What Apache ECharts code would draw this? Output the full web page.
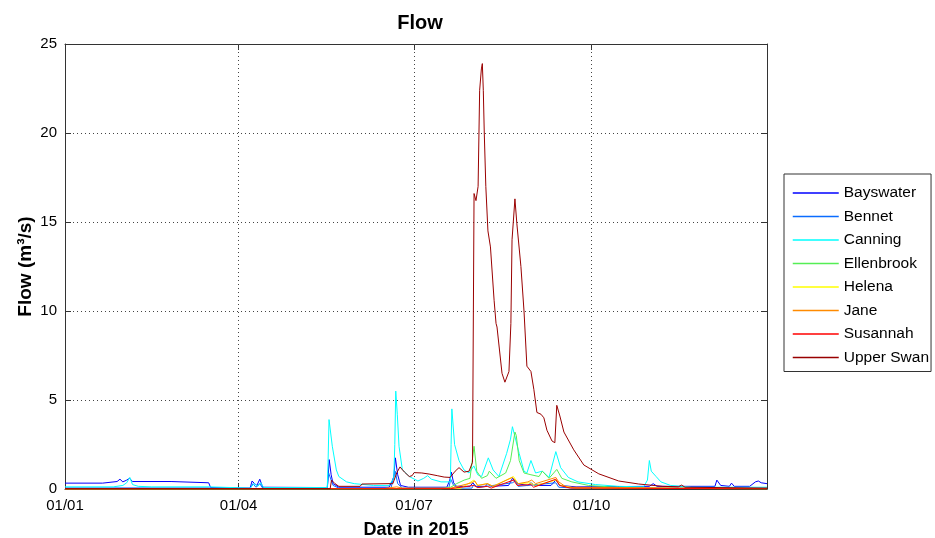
<!DOCTYPE html>
<html>
<head>
<meta charset="utf-8">
<title>Flow</title>
<script src="https://cdn.jsdelivr.net/npm/echarts@6/dist/echarts.min.js"></script>
<style>
  html, body { margin: 0; padding: 0; background: #fff; }
  #chart { width: 935px; height: 538px; }
</style>
</head>
<body>
<div id="chart"></div>
<script>
// Daily river inflows for 2015, as [day of year (0 = 1 Jan), flow in m3/s]
const seriesNames = ['Bayswater', 'Bennet', 'Canning', 'Ellenbrook', 'Helena', 'Jane', 'Susannah', 'Upper Swan'];

const tickDays = [0, 90, 181, 273];
const tickLabels = ['01/01', '01/04', '01/07', '01/10'];
const yMin = 0, yMax = 25, yStep = 5;

const bayswater = [
  [0, 0.33], [19.5, 0.33], [20, 0.42], [27, 0.42], [28.5, 0.55], [30, 0.4], [32, 0.5], [33.5, 0.6], [35, 0.42],
  [55, 0.42], [56, 0.35], [74.5, 0.35], [75.5, 0.08], [96, 0.05], [97, 0.45], [98.3, 0.3], [99.5, 0.2],
  [101, 0.55], [102.5, 0.1], [136, 0.08], [136.5, 0.8], [137, 1.65], [138, 0.8], [139, 0.3], [142, 0.1],
  [168, 0.1], [169.5, 0.4], [170.5, 0.7], [171.3, 1.75], [172.5, 0.8], [174, 0.2], [178, 0.1], [198, 0.1],
  [199.5, 0.5], [200.3, 0.95], [201.5, 0.35], [203, 0.15], [210, 0.15], [211.5, 0.35], [213, 0.15],
  [218, 0.15], [219, 0.3], [221, 0.15], [230, 0.2], [232, 0.6], [233, 0.68], [234.5, 0.3], [240, 0.2],
  [241.6, 0.35], [243.5, 0.2], [252, 0.2], [254.5, 0.5], [256.5, 0.2], [265, 0.12], [303, 0.15], [305, 0.3],
  [307, 0.15], [337, 0.15], [338, 0.5], [340, 0.2], [344.5, 0.15], [345.6, 0.33], [347, 0.15], [355, 0.15],
  [358, 0.4], [359.5, 0.45], [361, 0.35], [364, 0.3]
];

const bennet = [
  [0, 0.06], [75, 0.06], [76, 0.03], [96, 0.03], [97.5, 0.3], [99, 0.1], [101, 0.3], [102.5, 0.05],
  [136, 0.05], [136.7, 0.9], [137.5, 0.8], [139, 0.2], [142, 0.05], [169, 0.05], [170.3, 0.6], [171.2, 1.0],
  [172.5, 0.3], [175, 0.05], [199, 0.05], [200, 0.55], [201.5, 0.2], [204, 0.05], [211, 0.05], [212, 0.25],
  [214, 0.08], [232, 0.35], [233.5, 0.45], [235, 0.15], [254.5, 0.35], [256, 0.1], [265, 0.05], [364, 0.05]
];

const canning = [
  [0, 0.12], [25, 0.12], [30, 0.2], [32, 0.35], [33.6, 0.65], [35, 0.25], [38, 0.15], [45, 0.12], [75, 0.12],
  [76, 0.05], [96, 0.05], [98, 0.3], [100, 0.15], [101.5, 0.35], [103, 0.08], [136, 0.08], [136.4, 1.5],
  [136.9, 3.9], [138.6, 2.4], [140.7, 1.07], [142, 0.7], [146, 0.4], [150, 0.3], [160, 0.2], [168, 0.2],
  [170.5, 0.6], [171, 2.5], [171.5, 5.5], [172.3, 4.2], [173.2, 2.4], [174.9, 1.1], [178.5, 0.7],
  [183, 0.45], [186, 0.6], [188, 0.75], [190, 0.55], [195, 0.4], [199.8, 0.4], [200.2, 2.5], [200.6, 4.5],
  [202, 2.5], [204.3, 1.6], [206.9, 1.07], [209.5, 0.9], [212, 1.3], [214, 0.8], [216, 0.7], [219.5, 1.75],
  [222, 1.07], [225, 0.7], [229, 2.0], [231, 2.8], [232, 3.5], [233, 3.5], [235.5, 2.0], [238, 1.0],
  [239.5, 0.9], [241.6, 1.6], [244, 0.9], [247.5, 1.0], [251, 0.65], [254.5, 2.1], [257, 1.2], [261, 0.65],
  [266, 0.4], [275, 0.25], [287, 0.15], [300, 0.12], [302, 0.5], [303, 1.6], [304, 1.0], [305, 1.1],
  [306.5, 0.7], [309, 0.4], [314, 0.2], [325, 0.1], [364, 0.1]
];

const ellenbrook = [
  [0, 0.01], [195, 0.01], [200, 0.1], [203, 0.3], [207, 0.5], [210, 0.6], [212.1, 2.4], [213.5, 1.0],
  [216, 0.6], [219, 0.75], [220, 1.0], [223.5, 0.6], [228.5, 0.9], [231, 1.6], [233.3, 3.2], [234, 3.0],
  [235.5, 1.6], [238, 0.9], [241.6, 0.8], [245.8, 0.7], [247.5, 1.0], [251, 0.6], [255, 1.1], [257.6, 0.6],
  [262.8, 0.4], [271.5, 0.2], [285, 0.1], [300, 0.05], [364, 0.02]
];

const helena = [
  [0, 0.0], [205, 0.02], [212, 0.5], [214, 0.2], [219, 0.3], [222, 0.15], [232.5, 0.7], [235, 0.3],
  [241, 0.35], [244, 0.2], [254.5, 0.5], [257, 0.2], [265, 0.05], [364, 0.01]
];

const jane = [
  [0, 0.0], [165, 0.02], [172, 0.12], [175, 0.05], [200, 0.05], [211, 0.35], [212.5, 0.45], [214, 0.2],
  [219, 0.3], [222, 0.15], [232, 0.65], [233, 0.7], [235, 0.3], [240, 0.4], [242, 0.5], [244, 0.3],
  [254.5, 0.65], [256, 0.4], [260, 0.1], [364, 0.02]
];

const susannah = [
  [0, 0.0], [200, 0.02], [212, 0.2], [214, 0.08], [219, 0.15], [221, 0.05], [232.5, 0.5], [234.5, 0.2],
  [241.6, 0.25], [243, 0.1], [254.5, 0.55], [256.5, 0.2], [262, 0.05], [364, 0.01]
];

const upperSwan = [
  [0, 0.02], [137.5, 0.02], [138.2, 0.5], [140, 0.3], [142, 0.15], [153, 0.15], [154, 0.28], [168, 0.3],
  [170, 0.3], [172, 0.9], [173.7, 1.24], [176, 0.95], [178.5, 0.7], [180, 0.75], [181, 0.92], [185, 0.9],
  [188.8, 0.84], [193, 0.75], [196.6, 0.67], [199.7, 0.65], [202.3, 1.0], [204.3, 1.2], [206.9, 0.95],
  [209.5, 1.0], [211.3, 1.5], [212.1, 16.6], [213.1, 16.2], [214.2, 17], [215, 22.4], [215.9, 23.6],
  [216.4, 23.9], [216.9, 22.4], [217.4, 20], [218.2, 17], [219.3, 14.5], [220.6, 13.6], [222.5, 10.6],
  [223.5, 9.3], [224, 9.1], [226.6, 6.5], [228.1, 6.0], [230.2, 6.6], [231.2, 9.3], [231.8, 14],
  [233.3, 16.3], [234.3, 14.9], [236.4, 12.5], [238, 10], [239.5, 6.9], [241.6, 6.6], [243.1, 5.6],
  [244.7, 4.3], [246.8, 4.2], [248.3, 4.0], [249.9, 3.3], [252.5, 2.7], [254, 2.6], [255, 4.7],
  [256.6, 4.1], [258.7, 3.2], [263.8, 2.2], [269, 1.35], [276.8, 0.85], [287.1, 0.45], [297.5, 0.28],
  [310, 0.15], [318, 0.12], [319.7, 0.22], [321.5, 0.1], [364, 0.05]
];

const seriesData = [bayswater, bennet, canning, ellenbrook, helena, jane, susannah, upperSwan];

// Line colours, one per river
const lineColors = ['#0000ff', '#0a6cff', '#00ffff', '#55ee55', '#ffff00', '#ff8a00', '#ff0000', '#990000'];

const FONT = '"Liberation Sans", Arial, Helvetica, sans-serif';
const AXIS_COLOR = '#333';
const GRID_DOT = { color: '#444', width: 1, type: [1, 3] };

const chart = echarts.init(document.getElementById('chart'), null, { renderer: 'canvas' });

const tickLabel = v => {
  const i = tickDays.indexOf(v);
  return i >= 0 ? tickLabels[i] : '';
};

const series = seriesNames.map((name, i) => {
  const s = {
    name: name,
    type: 'line',
    data: seriesData[i],
    xAxisIndex: 0,
    yAxisIndex: 0,
    showSymbol: false,
    symbol: 'none',
    lineStyle: { width: 1, color: lineColors[i] },
    itemStyle: { color: lineColors[i] },
    emphasis: { disabled: true },
    z: 3
  };
  if (i === 0) {
    // vertical grid lines at the month ticks
    s.markLine = {
      silent: true,
      symbol: ['none', 'none'],
      label: { show: false },
      lineStyle: GRID_DOT,
      emphasis: { disabled: true },
      data: tickDays.filter(d => d > 0).map(d => ({ xAxis: d }))
    };
  }
  return s;
});

const option = {
  animation: false,
  backgroundColor: '#fff',
  title: {
    text: 'Flow',
    left: 415,
    top: 8,
    textAlign: 'center',
    textStyle: { fontFamily: FONT, fontSize: 20, fontWeight: 'bold', color: '#000' }
  },
  grid: { left: 65, top: 44, width: 702, height: 445, outerBoundsMode: 'none', containLabel: false },
  legend: {
    orient: 'vertical',
    left: 784,
    top: 174,
    data: seriesNames,
    itemWidth: 46,
    itemHeight: 14,
    itemGap: 7.5,
    padding: [11, 2, 6, 8],
    borderColor: '#333',
    borderWidth: 1,
    borderRadius: 0,
    backgroundColor: '#fff',
    selectedMode: false,
    // plain line keys: hide the marker symbol, keep the line
    itemStyle: { opacity: 0 },
    lineStyle: { width: 1.5 },
    textStyle: { fontFamily: FONT, fontSize: 15.5, color: '#000' }
  },
  xAxis: [
    {
      type: 'value',
      min: tickDays[0],
      max: 364,
      position: 'bottom',
      name: 'Date in 2015',
      nameLocation: 'middle',
      nameGap: 32,
      nameTextStyle: { fontFamily: FONT, fontSize: 18, fontWeight: 'bold', color: '#000' },
      axisLine: { show: true, onZero: false, lineStyle: { color: AXIS_COLOR, width: 1 } },
      axisTick: { show: true, inside: true, length: 6, customValues: tickDays, lineStyle: { color: AXIS_COLOR } },
      axisLabel: {
        customValues: tickDays,
        formatter: tickLabel,
        margin: 9,
        fontFamily: FONT,
        fontSize: 15,
        color: '#000'
      },
      splitLine: { show: false }
    },
    {
      type: 'value',
      min: tickDays[0],
      max: 364,
      position: 'top',
      axisLine: { show: true, onZero: false, lineStyle: { color: AXIS_COLOR, width: 1 } },
      axisTick: { show: true, inside: true, length: 6, customValues: tickDays, lineStyle: { color: AXIS_COLOR } },
      axisLabel: { show: false },
      splitLine: { show: false }
    }
  ],
  yAxis: [
    {
      type: 'value',
      min: yMin,
      max: yMax,
      interval: yStep,
      position: 'left',
      name: 'Flow (m³/s)',
      nameLocation: 'middle',
      nameGap: 30,
      nameMoveOverlap: false,
      nameTextStyle: { fontFamily: FONT, fontSize: 19, fontWeight: 'bold', color: '#000' },
      axisLine: { show: true, onZero: false, lineStyle: { color: AXIS_COLOR, width: 1 } },
      axisTick: { show: true, inside: true, length: 6, lineStyle: { color: AXIS_COLOR } },
      axisLabel: { margin: 8, fontFamily: FONT, fontSize: 15, color: '#000' },
      splitLine: { show: true, lineStyle: GRID_DOT }
    },
    {
      type: 'value',
      min: yMin,
      max: yMax,
      interval: yStep,
      position: 'right',
      axisLine: { show: true, onZero: false, lineStyle: { color: AXIS_COLOR, width: 1 } },
      axisTick: { show: true, inside: true, length: 6, lineStyle: { color: AXIS_COLOR } },
      axisLabel: { show: false },
      splitLine: { show: false }
    }
  ],
  series: series
};

chart.setOption(option);
</script>
</body>
</html>
